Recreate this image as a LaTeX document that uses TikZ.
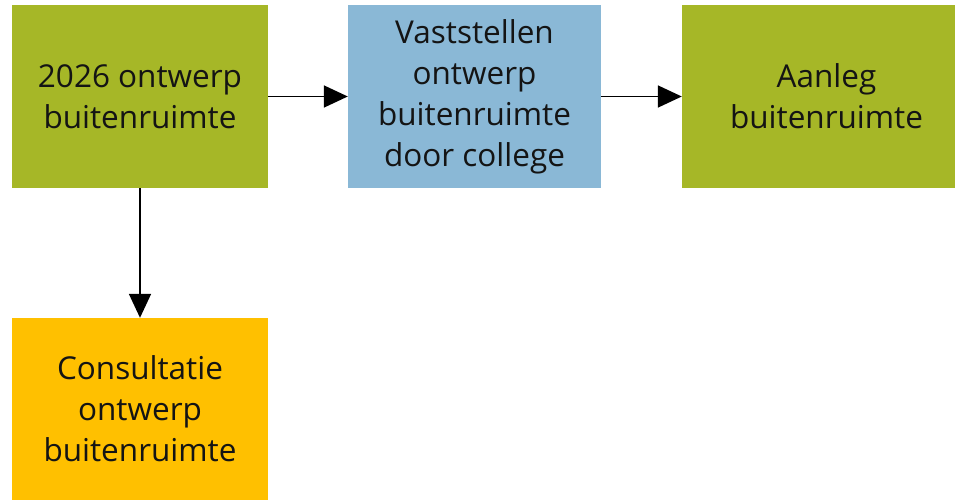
\documentclass[tikz,border=0pt]{standalone}
\usepackage{fontspec}
\setmainfont{Open Sans}
\usepackage{tikz}
\usetikzlibrary{arrows.meta, positioning}
\definecolor{stapgroen}{HTML}{A6B727}
\definecolor{stapblauw}{HTML}{8AB8D6}
\definecolor{staporanje}{HTML}{FFC000}
\tikzstyle{arrow} = [line width=1.8pt, -{Triangle[length=24pt, width=22pt]}]

\begin{document}
\begin{tikzpicture}[x=1pt, y=1pt,
    stap/.style={rectangle, draw=none, minimum width=256pt, minimum height=183pt, align=center, inner sep=0pt,
                 font=\fontsize{31.5}{41}\selectfont, text=black!92},
]
\useasboundingbox (0, 0) rectangle (955, -500);

% Stappen
\node[stap, fill=stapgroen] (ontwerp) at (140, -96.5) {2026 ontwerp\\buitenruimte};
\node[stap, fill=stapblauw, minimum width=253pt] (vaststellen) at (474.5, -96.5) {Vaststellen\\ontwerp\\buitenruimte\\door college};
\node[stap, fill=stapgroen, minimum width=289pt] (aanleg) at (826.5, -96.5) {Aanleg\\buitenruimte};
\node[stap, fill=staporanje, minimum height=182pt] (consultatie) at (140, -409) {Consultatie\\ontwerp\\buitenruimte};

% Verbindingen
\draw[arrow] (ontwerp) -- (vaststellen);
\draw[arrow] (vaststellen) -- (aanleg);
\draw[arrow] (ontwerp) -- (consultatie);

\end{tikzpicture}
\end{document}
